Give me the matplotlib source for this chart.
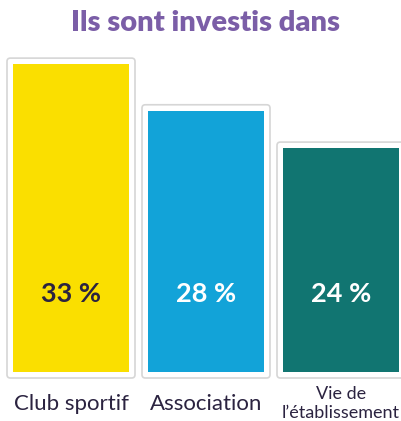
import matplotlib
matplotlib.use("Agg")
import matplotlib.pyplot as plt
from matplotlib.patches import FancyBboxPatch

categories = ["Club sportif", "Association", "Vie de\nl’établissement"]
values = [33, 28, 24]
labels = ["33 %", "28 %", "24 %"]
colors = ["#FADF00", "#12A3D8", "#117571"]
text_colors = ["#2B2340", "white", "white"]

W, H = 402, 421
fig = plt.figure(figsize=(W / 100, H / 100), dpi=100)
plt.rcParams['font.family'] = ['Lato', 'DejaVu Sans']

# axes: baseline at 372 px from top, 9.33 px per percent, 135 px between bars
px_y = 9.33
px_x = 135.0
ax = fig.add_axes([0, 49 / H, 1, 372 / H])
ax.set_ylim(0, 372 / px_y)
ax.set_xlim(-71 / px_x, (W - 71) / px_x)
ax.axis("off")

bw = 116 / px_x
padx = 6 / px_x
pady = 6 / px_y

for i, v in enumerate(values):
    card = FancyBboxPatch((i - bw / 2 - padx, -pady), bw + 2 * padx, v + 2 * pady,
                          boxstyle="round,pad=0,rounding_size=0.025",
                          mutation_aspect=px_x / px_y,
                          facecolor="white", edgecolor="#d6d6d6", linewidth=1.2,
                          clip_on=False, zorder=1)
    ax.add_patch(card)

ax.bar(range(len(values)), values, width=bw, color=colors, zorder=2)

for i, v in enumerate(values):
    ax.text(i, 8.4, labels[i], ha="center", va="center", fontsize=19.5,
            fontweight="bold", color=text_colors[i], zorder=3)

ax.text(0, -3.4, categories[0], ha="center", va="center", fontsize=16, color="#2B2340", clip_on=False)
ax.text(1, -3.4, categories[1], ha="center", va="center", fontsize=16, color="#2B2340", clip_on=False)
ax.text(2, -3.4, categories[2], ha="center", va="center", fontsize=13, color="#2B2340",
        linespacing=1.2, clip_on=False)

fig.text(206 / W, 1 - 23 / H, "Ils sont investis dans", ha="center", va="center",
         fontsize=21, fontweight="heavy", color="#7B5EA7")

fig.savefig("out.png", dpi=100)
